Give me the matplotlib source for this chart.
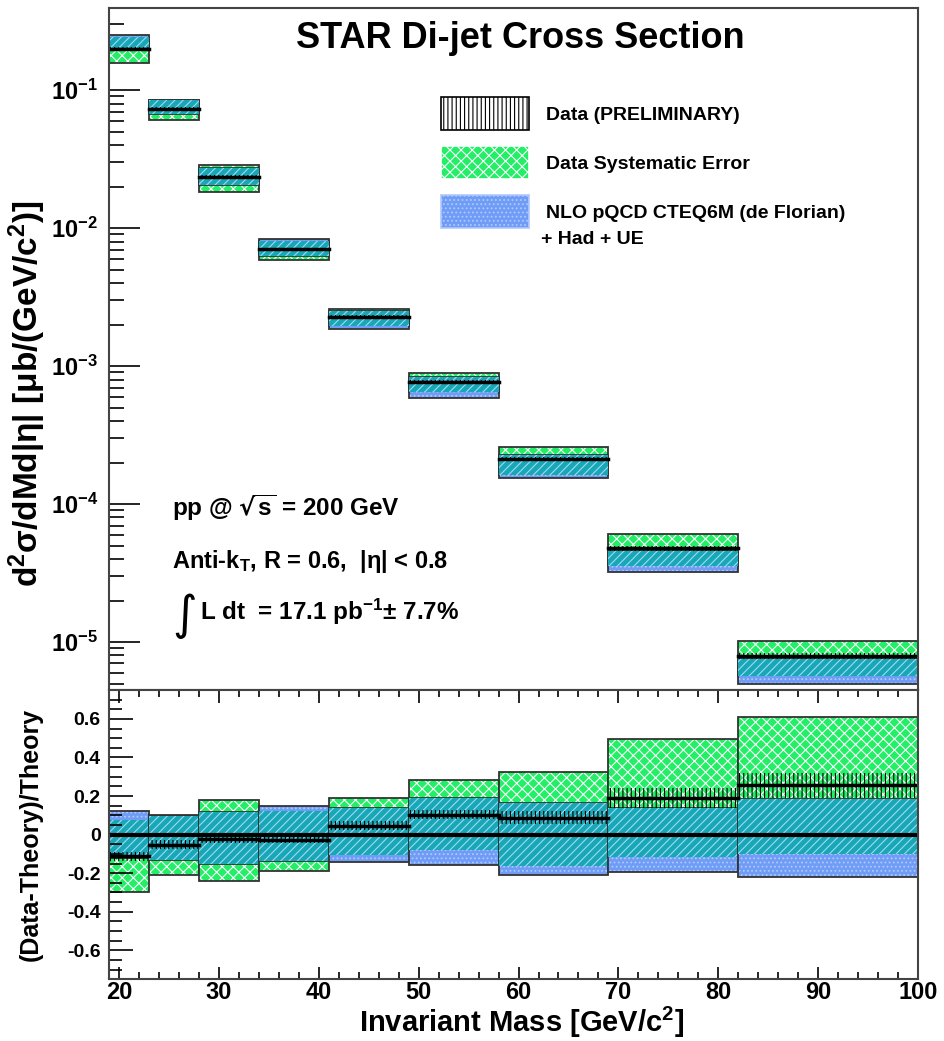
import numpy as np
import matplotlib.pyplot as plt
from matplotlib.patches import Patch
from matplotlib.ticker import LogLocator, MultipleLocator, NullFormatter, FuncFormatter

plt.rcParams['font.family'] = ['Liberation Sans', 'DejaVu Sans']
plt.rcParams['font.weight'] = 'bold'
plt.rcParams['mathtext.default'] = 'regular'
plt.rcParams['hatch.linewidth'] = 0.8

# bin edges in invariant mass [GeV/c^2]
edges = [19, 23, 28, 34, 41, 49, 58, 69, 82, 100]
# NLO theory (central) and its relative band
theory = [0.224, 0.0772, 0.0242, 0.00724, 0.002184, 0.000700, 0.000195, 4.04e-5, 6.34e-6]
theory_lo = [-0.12, -0.131, -0.151, -0.139, -0.144, -0.156, -0.208, -0.196, -0.22]
theory_hi = [0.125, 0.099, 0.118, 0.147, 0.140, 0.189, 0.165, 0.139, 0.185]
# data relative to theory
ratio = [-0.113, -0.052, -0.022, -0.026, 0.047, 0.104, 0.087, 0.19, 0.255]
stat = [0.025, 0.022, 0.022, 0.02, 0.025, 0.025, 0.033, 0.05, 0.067]
sys_lo = [-0.30, -0.208, -0.239, -0.187, -0.104, -0.078, -0.161, -0.118, -0.099]
sys_hi = [0.078, 0.10, 0.182, 0.121, 0.189, 0.282, 0.324, 0.494, 0.611]

green = '#22ee66'
blue = '#6f9cf5'
teal = '#18a8b4'
edge = '#333333'


def box(ax, x0, w, lo, hi, face, hcol, hatch, outline=True):
    ax.bar(x0, hi - lo, w, bottom=lo, align='edge', color=face, linewidth=0)
    ax.bar(x0, hi - lo, w, bottom=lo, align='edge', fill=False, edgecolor=hcol,
           hatch=hatch, linewidth=0)
    if outline:
        ax.bar(x0, hi - lo, w, bottom=lo, align='edge', fill=False,
               edgecolor=edge, linewidth=1.3)


def draw(ax, base, shift):
    for i in range(len(theory)):
        x0 = edges[i]
        w = edges[i + 1] - edges[i]
        b = base[i]
        v = lambda f: b * (1 + f) - shift
        g_lo, g_hi = v(sys_lo[i]), v(sys_hi[i])
        t_lo, t_hi = v(theory_lo[i]), v(theory_hi[i])
        box(ax, x0, w, g_lo, g_hi, green, 'white', 'xxx')
        box(ax, x0, w, t_lo, t_hi, blue, '#b0c8ff', '....')
        o_lo, o_hi = max(g_lo, t_lo), min(g_hi, t_hi)
        if o_hi > o_lo:
            box(ax, x0, w, o_lo, o_hi, teal, '#9fd8ff', '////', outline=False)
        d = v(ratio[i])
        box(ax, x0, w, v(ratio[i] - stat[i]), v(ratio[i] + stat[i]), 'none', 'black', '||||', outline=False)
        ax.plot([x0, x0 + w], [d, d], color='black', lw=2.5)


fig = plt.figure(figsize=(9.44, 10.41), dpi=100)
ax1 = fig.add_axes([0.1155, 0.3372, 0.857, 0.655])
ax2 = fig.add_axes([0.1155, 0.0593, 0.857, 0.2779])

draw(ax1, theory, 0.0)
ax1.set_yscale('log')
ax1.set_ylim(4.5e-6, 0.393)
ax1.set_xlim(19, 100)
ax1.yaxis.set_major_locator(LogLocator(base=10))
ax1.yaxis.set_minor_locator(LogLocator(base=10, subs=np.arange(2, 10)))
ax1.yaxis.set_minor_formatter(NullFormatter())
ax1.yaxis.set_major_formatter(FuncFormatter(lambda y, p: '$10^{%d}$' % round(np.log10(y))))
ax1.tick_params(axis='y', which='major', direction='in', length=22, width=1.2, labelsize=17, pad=8)
ax1.tick_params(axis='y', which='minor', direction='in', length=11, width=1.2)
ax1.tick_params(axis='x', which='both', bottom=False, labelbottom=False)

draw(ax2, [1.0] * len(theory), 1.0)
ax2.axhline(0, color='black', lw=3)
ax2.set_xlim(19, 100)
ax2.set_ylim(-0.75, 0.75)
ax2.yaxis.set_major_locator(MultipleLocator(0.2))
ax2.yaxis.set_minor_locator(MultipleLocator(0.05))
ax2.yaxis.set_major_formatter(FuncFormatter(lambda y, p: '0' if abs(y) < 1e-9 else '%.1f' % y))
ax2.xaxis.set_major_locator(MultipleLocator(10))
ax2.xaxis.set_minor_locator(MultipleLocator(2))
ax2.tick_params(axis='y', which='major', direction='in', length=17, width=1.2, labelsize=14, pad=6)
ax2.tick_params(axis='y', which='minor', direction='in', length=9, width=1.2)
ax2.tick_params(axis='x', which='major', direction='in', top=True, length=9, width=1.2, labelsize=17, pad=1)
ax2.tick_params(axis='x', which='minor', direction='in', top=True, length=5, width=1.2)

for ax in (ax1, ax2):
    for s in ax.spines.values():
        s.set_linewidth(1.5)
        s.set_color('#444444')

ax1.text(0.508, 0.956, 'STAR Di-jet Cross Section', transform=ax1.transAxes,
         ha='center', va='center', fontsize=26)

# legend
handles = [Patch(facecolor='white', edgecolor='black', hatch='||||'),
           Patch(facecolor=green, edgecolor='white', hatch='xxx'),
           Patch(facecolor=blue, edgecolor='#b0c8ff', hatch='....')]
labels = ['Data (PRELIMINARY)', 'Data Systematic Error', 'NLO pQCD CTEQ6M (de Florian)']
leg = ax1.legend(handles, labels, loc='upper left', bbox_to_anchor=(0.389, 0.895),
                 frameon=False, fontsize=14, handlelength=4.5, handleheight=2.2,
                 labelspacing=0.85, handletextpad=0.9)
for p in leg.get_patches():
    p.set_linewidth(1.2)
ax1.text(0.534, 0.66, '+ Had + UE', transform=ax1.transAxes, ha='left', va='center', fontsize=14)

ax1.text(0.078, 0.267, r'pp @ $\sqrt{s}$ = 200 GeV', transform=ax1.transAxes,
         ha='left', va='center', fontsize=17.5)
ax1.text(0.078, 0.189, r'Anti-k$_{T}$, R = 0.6,  |η| < 0.8', transform=ax1.transAxes,
         ha='left', va='center', fontsize=17)
ax1.text(0.078, 0.108, '∫', transform=ax1.transAxes, ha='left', va='center', fontsize=34,
         fontweight='normal', family=['DejaVu Sans'])
ax1.text(0.112, 0.114, r'L dt  = 17.1 pb$^{-1}$± 7.7%', transform=ax1.transAxes,
         ha='left', va='center', fontsize=17.5)

narrow = ['Liberation Sans Narrow', 'Liberation Sans', 'DejaVu Sans']
fig.text(0.029, 0.622, r'd$^{2}$σ/dMd|η| [μb/(GeV/c$^{2}$)]', rotation=90,
         ha='center', va='center', fontsize=24, family=narrow)
fig.text(0.033, 0.198, '(Data-Theory)/Theory', rotation=90,
         ha='center', va='center', fontsize=18, family=narrow)
fig.text(0.553, 0.001, r'Invariant Mass [GeV/c$^{2}$]', ha='center', va='bottom', fontsize=21)

fig.savefig('out.png', dpi=100)
